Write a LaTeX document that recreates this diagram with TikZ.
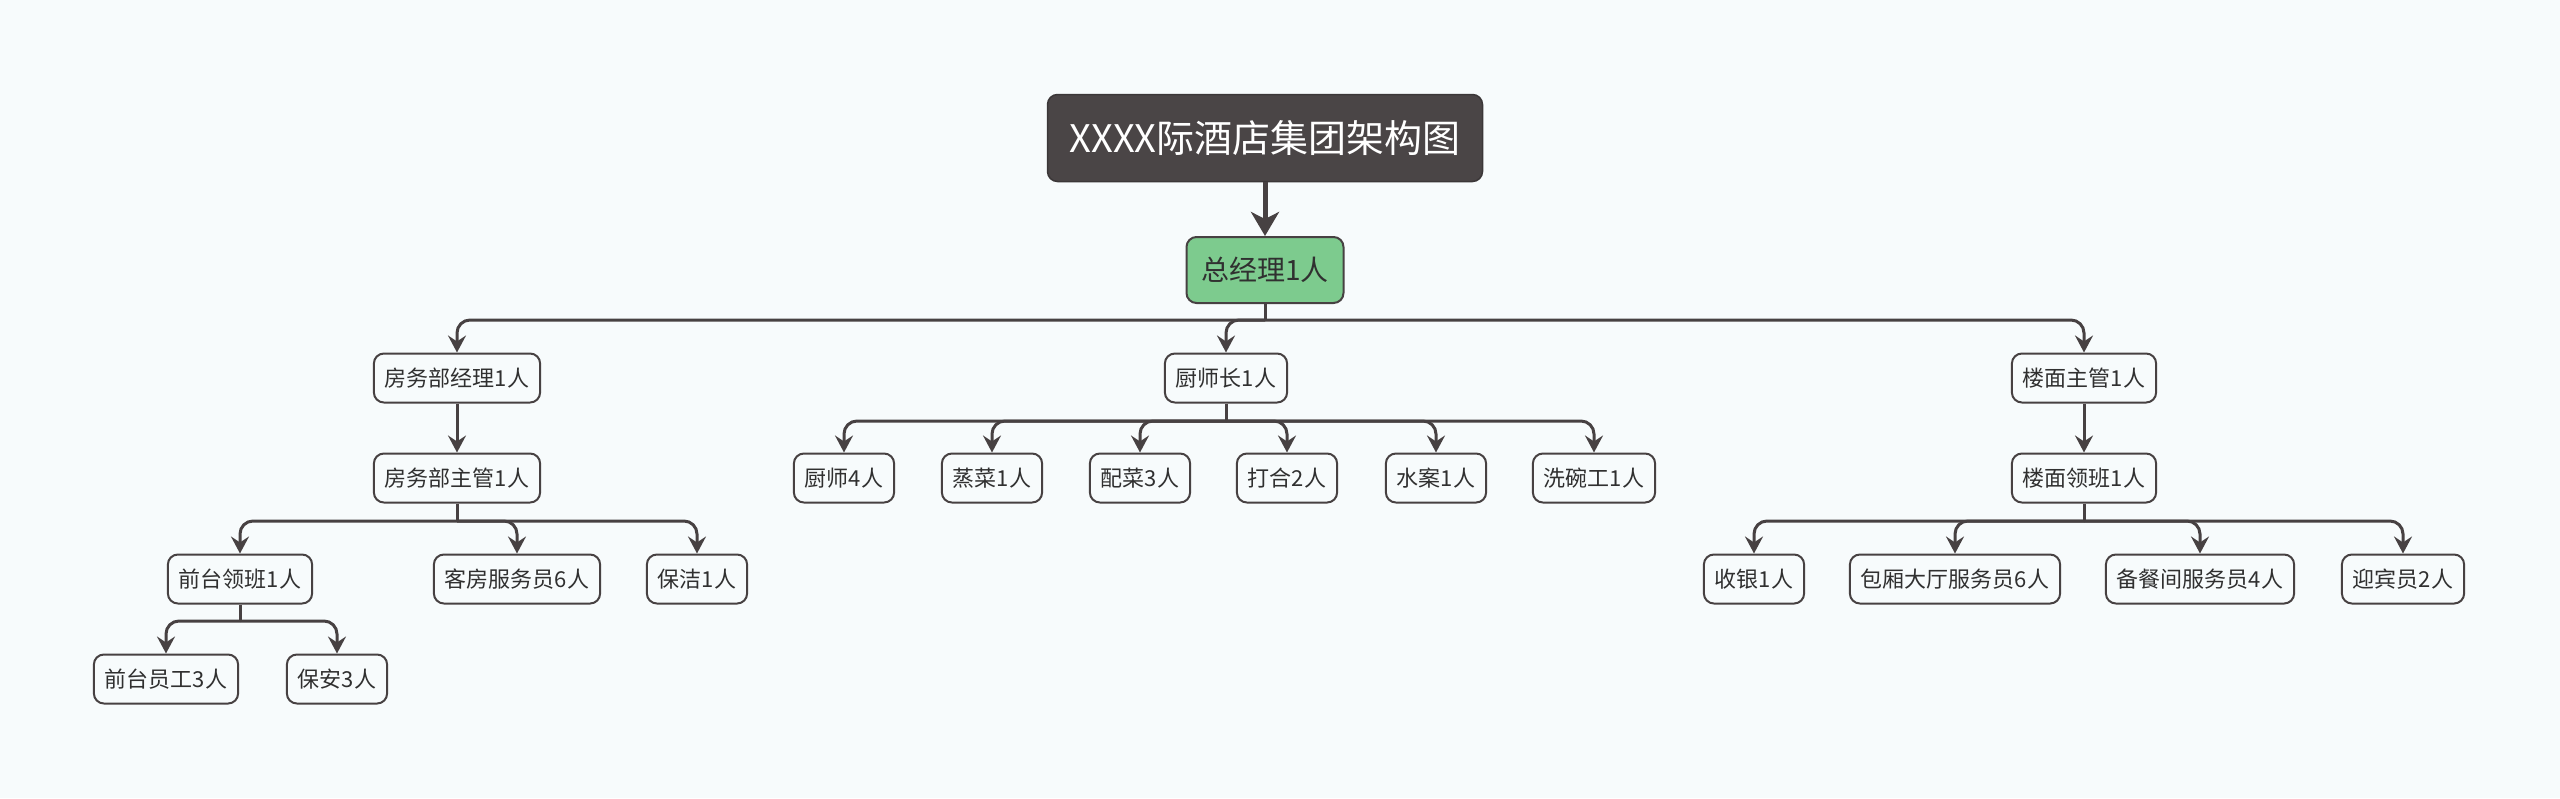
\documentclass[tikz,border=0pt]{standalone}
\usepackage{fontspec}
\setmainfont{Noto Sans CJK SC}
\usetikzlibrary{arrows.meta}
\definecolor{bgcol}{HTML}{F7FBFC}
\definecolor{linecol}{HTML}{474142}
\definecolor{titlecol}{HTML}{4A4546}
\definecolor{gmcol}{HTML}{7DCB8E}
\definecolor{textcol}{HTML}{303030}
\tikzset{
  post/.style={draw=linecol,line width=2pt,rounded corners=10pt,fill=bgcol,text=textcol,
    font=\fontsize{22}{26}\selectfont,inner xsep=11pt,minimum height=49pt},
  stem/.style={draw=linecol,line width=3pt},
  link/.style={stem,rounded corners=13pt,-{Stealth[length=17pt,width=18pt,inset=6pt]}},
}
\begin{document}
\begin{tikzpicture}[x=1pt,y=-1pt]
    \fill[bgcol] (0,0) rectangle (2560,798);
    \useasboundingbox (0,0) rectangle (2560,798);
    %% top
    \node[fill=titlecol,draw=titlecol!80!black,line width=1.5pt,rounded corners=10pt,text=white,
      font=\fontsize{38}{44}\selectfont,minimum width=435pt,minimum height=87pt] (title) at (1265,138) {XXXX际酒店集团架构图};
    \node[post,fill=gmcol,font=\fontsize{28}{32}\selectfont,minimum width=157pt,minimum height=66pt] (gm) at (1265,270) {总经理1人};
    \draw[stem,line width=5pt,-{Stealth[length=24pt,width=28pt,inset=7pt]}] (title) -- (gm);
    %% departments
    \coordinate (gmj) at (1265,320);
    \draw[stem] (gm) -- (gmj);
    \node[post] (fwjl) at (457,378) {房务部经理1人};
    \node[post] (csz) at (1226,378) {厨师长1人};
    \node[post] (lmzg) at (2084,378) {楼面主管1人};
    \foreach \n in {fwjl,csz,lmzg} \draw[link] (gmj) -| (\n.north);
    %% rooms
    \node[post] (fwzg) at (457,478) {房务部主管1人};
    \draw[link] (fwjl) -- (fwzg);
    \coordinate (fwzgj) at (457,521);
    \draw[stem] (fwzg) -- (fwzgj);
    \foreach \n/\x/\t in {qtlb/240/前台领班1人,kffwy/517/客房服务员6人,bj/697/保洁1人} {
        \node[post] (\n) at (\x,579) {\t};
        \draw[link] (fwzgj) -| (\n.north);
    }
    \coordinate (qtlbj) at (240,621);
    \draw[stem] (qtlb) -- (qtlbj);
    \foreach \n/\x/\t in {qtyg/166/前台员工3人,ba/337/保安3人} {
        \node[post] (\n) at (\x,679) {\t};
        \draw[link] (qtlbj) -| (\n.north);
    }
    %% kitchen
    \coordinate (cszj) at (1226,421);
    \draw[stem] (csz) -- (cszj);
    \foreach \n/\x/\t in {cs/844/厨师4人,zc/992/蒸菜1人,pc/1140/配菜3人,dh/1287/打合2人,sa/1436/水案1人,xwg/1594/洗碗工1人} {
        \node[post] (\n) at (\x,478) {\t};
        \draw[link] (cszj) -| (\n.north);
    }
    %% floor
    \node[post] (lmlb) at (2084,478) {楼面领班1人};
    \draw[link] (lmzg) -- (lmlb);
    \coordinate (lmlbj) at (2084,521);
    \draw[stem] (lmlb) -- (lmlbj);
    \foreach \n/\x/\t in {sy/1754/收银1人,bx/1955/包厢大厅服务员6人,bc/2200/备餐间服务员4人,yb/2403/迎宾员2人} {
        \node[post] (\n) at (\x,579) {\t};
        \draw[link] (lmlbj) -| (\n.north);
    }
\end{tikzpicture}
\end{document}
